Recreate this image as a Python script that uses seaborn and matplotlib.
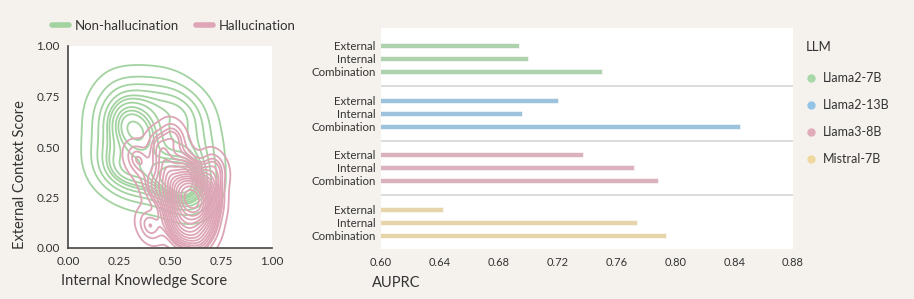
import matplotlib
matplotlib.use("Agg")
import matplotlib.pyplot as plt
from matplotlib.lines import Line2D
import seaborn as sns
import pandas as pd

# ---------------- data ----------------
llms = ["Llama2-7B", "Llama2-13B", "Llama3-8B", "Mistral-7B"]
methods = ["External", "Internal", "Combination"]
auprc_llama2_7b = [0.694, 0.700, 0.750]
auprc_llama2_13b = [0.720, 0.696, 0.844]
auprc_llama3_8b = [0.737, 0.772, 0.788]
auprc_mistral_7b = [0.642, 0.774, 0.794]
xticks_bar = [0.60, 0.64, 0.68, 0.72, 0.76, 0.80, 0.84, 0.88]

# hand-placed sample points
nonhal_x = [0.27, 0.38, 0.50,
            0.21, 0.30, 0.42, 0.55, 0.62,
            0.19, 0.27, 0.35, 0.47, 0.60,
            0.33, 0.36,
            0.21, 0.40, 0.55, 0.66,
            0.19, 0.28, 0.45, 0.60,
            0.21, 0.32, 0.45, 0.55, 0.60, 0.65,
            0.57, 0.58,
            0.32, 0.43, 0.52]
nonhal_y = [0.77, 0.78, 0.77,
            0.69, 0.70, 0.70, 0.70, 0.68,
            0.60, 0.60, 0.60, 0.60, 0.60,
            0.55, 0.56,
            0.50, 0.50, 0.50, 0.50,
            0.42, 0.41, 0.41, 0.41,
            0.36, 0.35, 0.35, 0.33, 0.33, 0.35,
            0.28, 0.27,
            0.32, 0.31, 0.30]
hal_x = [0.60, 0.61, 0.55, 0.65, 0.60, 0.60, 0.55, 0.65, 0.55, 0.65, 0.70, 0.50,
         0.60, 0.68, 0.52, 0.56, 0.64, 0.70, 0.50, 0.58, 0.48,
         0.45, 0.52, 0.42, 0.34, 0.40, 0.72]
hal_y = [0.25, 0.24, 0.25, 0.25, 0.18, 0.32, 0.18, 0.18, 0.32, 0.32, 0.22, 0.22,
         0.10, 0.12, 0.12, 0.06, 0.05, 0.30, 0.32, 0.40, 0.40,
         0.50, 0.55, 0.30, 0.44, 0.11, 0.40]

# ---------------- style ----------------
BG = "#f5f2ee"
TXT = "#333333"
GREEN_L = "#a3d3a1"
PINK_L = "#dda5b6"
bar_colors = ["#a8d8a8", "#93c4e6", "#e0abba", "#f0d8a0"]

sns.set_theme(style="white")
plt.rcParams["font.family"] = ["Lato", "DejaVu Sans"]
plt.rcParams["text.color"] = TXT
plt.rcParams["axes.labelcolor"] = TXT
plt.rcParams["xtick.color"] = TXT
plt.rcParams["ytick.color"] = TXT

fig = plt.figure(figsize=(9.14, 2.99), dpi=100, facecolor=BG)

# ---------------- left: KDE ----------------
ax1 = fig.add_axes([68 / 914, 1 - 248 / 299, 204 / 914, 202 / 299])
ax1.set_facecolor("white")
df_n = pd.DataFrame({"x": nonhal_x, "y": nonhal_y})
df_h = pd.DataFrame({"x": hal_x, "y": hal_y})
sns.kdeplot(data=df_n, x="x", y="y", ax=ax1, levels=12, thresh=0.05,
            color=GREEN_L, linewidths=1.3, bw_adjust=1.0)
sns.kdeplot(data=df_h, x="x", y="y", ax=ax1, levels=18, thresh=0.03,
            color=PINK_L, linewidths=1.3, bw_adjust=0.8)
ax1.set_xlim(0, 1)
ax1.set_ylim(0, 1)
ticks = [0.0, 0.25, 0.5, 0.75, 1.0]
ax1.set_xticks(ticks)
ax1.set_yticks(ticks)
ax1.set_xticklabels([f"{t:.2f}" for t in ticks], fontsize=8.5)
ax1.set_yticklabels([f"{t:.2f}" for t in ticks], fontsize=8.5)
ax1.set_xlabel("Internal Knowledge Score", fontsize=10.5)
ax1.set_ylabel("External Context Score", fontsize=10.5)
ax1.xaxis.set_label_coords(0.373, -0.13)
ax1.yaxis.set_label_coords(-0.2, 0.364)
for s in ["top", "right"]:
    ax1.spines[s].set_visible(False)
for s in ["left", "bottom"]:
    ax1.spines[s].set_color("#444444")
    ax1.spines[s].set_linewidth(1.2)
ax1.tick_params(axis="both", length=4, width=1, color="#444444", direction="out", pad=2)

fig.legend(handles=[Line2D([], [], color=GREEN_L, lw=4),
                    Line2D([], [], color=PINK_L, lw=4)],
           labels=["Non-hallucination", "Hallucination"],
           loc="upper left", bbox_to_anchor=(52 / 914, 1 - 20 / 299), ncol=2,
           frameon=False, fontsize=9.5, handlelength=1.3, handletextpad=0.4,
           columnspacing=1.3, borderpad=0, borderaxespad=0)

# ---------------- right: bars ----------------
rows = []
gstep = 4.2
for g, (llm, vals) in enumerate(zip(llms, [auprc_llama2_7b, auprc_llama2_13b,
                                           auprc_llama3_8b, auprc_mistral_7b])):
    for i, (m, v) in enumerate(zip(methods, vals)):
        rows.append({"LLM": llm, "Method": m, "AUPRC": v, "pos": g * gstep + i})
df_b = pd.DataFrame(rows)

ax2 = fig.add_axes([381 / 914, 1 - 249 / 299, 412 / 914, 221 / 299])
ax2.set_facecolor("white")
sns.barplot(data=df_b, x="AUPRC", y="pos", hue="LLM", orient="y", native_scale=True,
            palette=bar_colors, hue_order=llms, dodge=False, errorbar=None,
            width=0.4, ax=ax2, legend=False, edgecolor="white", linewidth=0.4)
ax2.set_xlim(0.60, 0.88)
ax2.set_ylim(15.64, -1.36)
ax2.set_yticks(df_b["pos"].tolist())
ax2.set_yticklabels(df_b["Method"].tolist(), fontsize=8.3)
ax2.set_xticks(xticks_bar)
ax2.set_xticklabels([f"{t:.2f}" for t in xticks_bar], fontsize=8)
ax2.set_ylabel("")
ax2.set_xlabel("AUPRC", fontsize=10.5)
ax2.xaxis.set_label_coords(-0.022, -0.12)
ax2.xaxis.label.set_horizontalalignment("left")
for s in ["top", "right", "left", "bottom"]:
    ax2.spines[s].set_visible(False)
ax2.tick_params(axis="x", length=4, width=1, color="#444444", pad=2)
ax2.tick_params(axis="y", length=0, pad=4)
for g in range(1, 4):
    ax2.axhline(g * gstep - 1.1, color="#d9d9d9", lw=1.3, zorder=0)

fig.text(806 / 914, 1 - 47 / 299, "LLM", fontsize=9.5, ha="left", va="center")
handles = [Line2D([], [], marker="o", ls="", markersize=5, markerfacecolor=c,
                  markeredgecolor=c) for c in bar_colors]
fig.legend(handles=handles, labels=llms, loc="upper left",
           bbox_to_anchor=(806 / 914, 1 - 72 / 299), frameon=False, fontsize=9,
           labelspacing=1.2, handlelength=0.8, handletextpad=0.56,
           borderpad=0, borderaxespad=0)

fig.savefig("out.png", dpi=100, facecolor=BG)
